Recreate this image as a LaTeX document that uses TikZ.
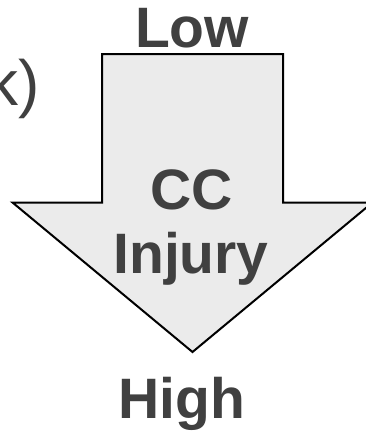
\documentclass[tikz,border=0pt]{standalone}
\usepackage{fontspec}
\setmainfont{Liberation Sans}
\definecolor{textgray}{HTML}{404040}
\definecolor{arrowfill}{HTML}{EBEBEB}
\tikzset{
  biglabel/.style={inner sep=0pt, text=textgray, font=\fontsize{57}{64}\selectfont\bfseries},
  sidelabel/.style={inner sep=0pt, text=textgray, font=\fontsize{64}{72}\selectfont},
  downarrow/.style={draw=black, line width=2pt, fill=arrowfill, line join=miter}
}
\begin{document}
\begin{tikzpicture}[x=1pt,y=-1pt]
  \useasboundingbox (0,0) rectangle (366,431);
  \clip (0,0) rectangle (366,431);
  \fill[white] (0,0) rectangle (366,431);
  % block arrow pointing down
  \draw[downarrow] (102,54) -- (283,54) -- (283,202.5) -- (372.5,202.5)
    -- (192.5,352) -- (12.5,202.5) -- (102,202.5) -- cycle;
  % labels
  \node[sidelabel, anchor=base west] (side) at (-14,105) {k)};
  \node[biglabel, anchor=base] (low) at (192,47) {Low};
  \node[biglabel, anchor=base] (cc) at (191.5,209) {CC};
  \node[biglabel, anchor=base] (injury) at (191,273) {Injury};
  \node[biglabel, anchor=base] (high) at (182,418) {High};
\end{tikzpicture}
\end{document}
